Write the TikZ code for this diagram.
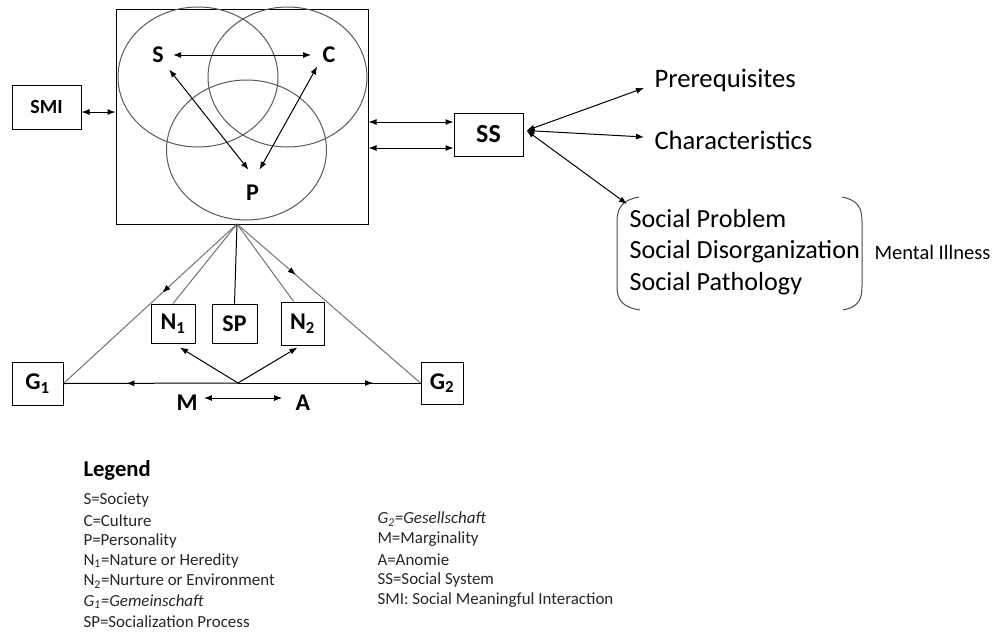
\documentclass[tikz,border=0pt]{standalone}
\usepackage{fontspec}
\setmainfont{Carlito}
\usepackage{tikz}
\usetikzlibrary{arrows.meta}
\usetikzlibrary{calc}
\usetikzlibrary{decorations.markings}
\tikzset{>={Latex[length=6pt,width=4.5pt]},
         box/.style = {draw, inner sep=0pt, font=\fontsize{18}{20}\selectfont\bfseries},
         lbl/.style = {inner sep=0pt, font=\fontsize{18}{20}\selectfont\bfseries},
         legtext/.style = {anchor=west, inner sep=0pt, text=black!85,
                           font=\fontsize{12.7}{14}\selectfont},
         midarrow/.style = {decoration={markings,
                                        mark=at position #1 with {\arrow{Latex[length=6pt,width=4.5pt,color=black]}}},
                            postaction={decorate}}}

\begin{document}
\begin{tikzpicture}[x=0.75pt, y=-0.75pt, line width=0.75pt]
    \useasboundingbox (0,0) rectangle (993,633);
    % frame with the three circles
    \node [draw, inner sep=0pt, minimum width=189pt, minimum height=161.25pt] (frame) at (242,116.5) {};
    \draw [black!65] (198,77) ellipse [x radius=60pt, y radius=52.5pt];
    \draw [black!65] (287.5,77) ellipse [x radius=59.6pt, y radius=52.5pt];
    \draw [black!65] (246.5,150) ellipse [x radius=60pt, y radius=52.5pt];
    \node [lbl] (S) at (158,55) {S};
    \node [lbl] (C) at (329,55) {C};
    \node [lbl] (P) at (252.5,193) {P};
    \draw [<->] ($(S.east)+(9,0)$) -- ($(C.west)+(-11,0)$);
    \draw [<->] ($(S.south east)+(5,6)$) -- ($(P.north)+(-4,-15)$);
    \draw [<->] ($(C.south west)+(-5,3)$) -- ($(P.north)+(7,-15)$);

    \node [box, font=\fontsize{15}{17}\selectfont\bfseries, minimum width=51.75pt, minimum height=33pt] (SMI) at (46.5,107) {SMI};
    \node [box, font=\fontsize{19.5}{21}\selectfont\bfseries, minimum width=51.75pt, minimum height=32.25pt] (SS) at (488.5,134.5) {SS};
    \coordinate (smiport) at ($(SMI.east)+(0,5)$);
    \draw [<->] (smiport) -- (smiport -| frame.west);
    \coordinate (ssup) at ($(SS.west)+(0,-12.5)$);
    \coordinate (ssdown) at ($(SS.west)+(0,13.5)$);
    \draw [<->] (ssup -| frame.east) -- (ssup);
    \draw [<->] (ssdown -| frame.east) -- (ssdown);

    % social system side
    \node [anchor=west, inner sep=0pt, font=\fontsize{20}{22}\selectfont] (prereq) at (654,80) {Prerequisites};
    \node [anchor=west, inner sep=0pt, font=\fontsize{20}{22}\selectfont] (char) at (654,140) {Characteristics};
    \node [anchor=west, align=left, inner sep=0pt, font=\fontsize{19.6}{23.6}\selectfont] (probs) at (629,252)
        {Social Problem\\Social Disorganization\\Social Pathology};
    \node [anchor=west, inner sep=0pt, font=\fontsize{15.4}{17}\selectfont] (illness) at (874,252) {Mental Illness};
    \draw [black!70] (639,197) .. controls (622,200) and (617,208) .. (617,222) -- (617,286)
        .. controls (617,300) and (622,307) .. (640,310);
    \draw [black!70] (842,197) .. controls (858,200) and (862,208) .. (862,222) -- (862,286)
        .. controls (862,300) and (858,307) .. (843,310);
    \coordinate (ssout) at ($(SS.east)+(3,-4)$);
    \coordinate (probtip) at (627,204);
    \draw [<->] (ssout) -- ($(prereq.west)+(-10,8)$);
    \draw [<->] (ssout) -- ($(char.west)+(-10,-3)$);
    \draw [<->] (ssout) -- (probtip);

    % socialization triangle
    \node [box, minimum width=33pt, minimum height=29.25pt] (N1) at (173,323.5) {N\textsubscript{1}};
    \node [box, minimum width=33.75pt, minimum height=29.25pt] (SP) at (234.5,323.5) {SP};
    \node [box, minimum width=32.25pt, minimum height=32.25pt] (N2) at (302.5,323.5) {N\textsubscript{2}};
    \node [box, minimum width=38.25pt, minimum height=32.25pt] (G1) at (37.5,383.5) {G\textsubscript{1}};
    \node [box, minimum width=31.5pt, minimum height=31.5pt] (G2) at (442,383) {G\textsubscript{2}};
    \node [lbl] (M) at (187,403) {M};
    \node [lbl] (A) at (303,403) {A};
    \coordinate (apex) at (237,224);
    \coordinate (mid) at (238,383);
    \draw [black!55, midarrow=0.43] (apex) -- (G1.east);
    \draw [black!55, midarrow=0.32] (apex) -- (G2.west);
    \draw [black!55] (apex) -- (N1.north);
    \draw [black!55] (apex) -- ($(N2.north west)!0.3!(N2.north east)$);
    \draw (apex) -- (SP.north);
    \draw [midarrow=0.64] (mid) -- (G1.east);
    \draw [midarrow=0.74] (mid) -- (G2.west);
    \draw [->] (mid) -- ($(N1.south)+(7,4)$);
    \draw [->] (mid) -- ($(N2.south)+(-5,2)$);
    \draw [<->] ($(M.east)+(6,-5)$) -- ($(A.west)+(-13,-5)$);

    % legend
    \node [anchor=west, inner sep=0pt, font=\fontsize{17}{19}\selectfont\bfseries] (legend) at (83,470) {Legend};
    \foreach \txt [count=\i from 0] in {S=Society, C=Culture, P=Personality,
            N\textsubscript{1}=Nature or Heredity, N\textsubscript{2}=Nurture or Environment,
            \textit{G\textsubscript{1}=Gemeinschaft}, SP=Socialization Process}
        \node [legtext] (left\i) at (83,{500+20.33*\i}) {\txt};
    \foreach \txt [count=\i from 0] in {\textit{G\textsubscript{2}=Gesellschaft}, M=Marginality,
            A=Anomie, SS=Social System, SMI: Social Meaningful Interaction}
        \node [legtext] (right\i) at (377,{519+20.33*\i}) {\txt};
\end{tikzpicture}
\end{document}
